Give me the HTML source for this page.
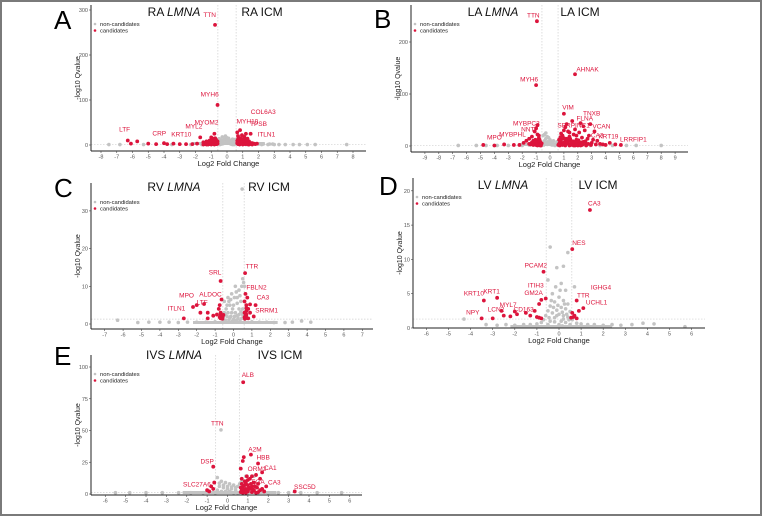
<!DOCTYPE html>
<html><head><meta charset="utf-8"><style>
html,body{margin:0;padding:0;background:#fff;}
#fig{position:relative;width:762px;height:516px;box-sizing:border-box;border:2px solid #7a7a7a;overflow:hidden;}
svg{position:absolute;left:-2px;top:-2px;}
text{font-family:"Liberation Sans",sans-serif;}
</style></head><body>
<div id="fig">
<svg id="svg" width="762" height="516" viewBox="0 0 762 516"></svg>
</div>
<script>
// ---------- DATA ----------
const aXTicks=[-8,-7,-6,-5,-4,-3,-2,-1,0,1,2,3,4,5,6,7,8];
const aYTicks=[0,100,200,300];
const aGray=[[-0.5,3],[-0.4,6],[-0.3,9],[-0.2,12],[-0.1,14],[0,16],[0.1,13],[0.2,10],[0.3,7],[0.4,4],[0.5,2],[-0.45,1],[-0.35,2],[-0.25,3],[-0.15,5],[-0.05,8],[0.05,6],[0.15,4],[0.25,2],[0.35,1],[0.45,1],[-0.3,18],[-0.1,20],[0.1,15],[0.3,10],[-0.4,8],[0.4,6],[-0.5,14],[0.5,12],[1.8,3],[2.0,2],[2.3,2],[2.6,1],[2.9,2],[3.3,1],[3.7,1],[4.2,1],[4.6,1],[5.1,1],[5.6,1],[7.6,1],[-7.5,1],[-6.8,1],[-5.3,1],[-3.5,1],[-2.3,1],[-1.6,1],[1.2,1],[1.5,2],[-0.8,1],[-0.2,4],[0.0,7],[0.2,5],[-0.4,11],[0.35,13],[2.2,1],[2.7,2],[3.0,1]];
const aRed=[[-6.3,10],[-6.1,3],[-5.7,8],[-5.0,3],[-4.5,2],[-4.0,4],[-3.8,2],[-3.4,3],[-3.0,2],[-2.6,2],[-2.2,2],[-1.9,3],[-1.7,17],[-1.5,6],[-1.4,4],[-1.3,5],[-1.2,7],[-1.1,10],[-1.0,17],[-0.95,12],[-0.9,8],[-0.85,5],[-0.8,25],[-0.75,15],[-0.7,4],[-0.65,2],[-1.3,1],[-1.1,2],[-0.9,3],[-0.7,2],[-1.5,1],[-1.2,1],[-1.0,1],[-0.8,1],[-0.76,267],[-0.6,89],[-0.7,9],[-1.0,6],
[-1.25,3],[-1.15,5],[-1.05,3],[-0.95,4],[-0.85,2],[-0.75,6],[-0.65,5],[-0.6,8],[-0.7,12],[-0.9,14],[-1.1,7],[-1.3,8],[-1.4,2],[-0.8,10],[-1.0,10],[-0.6,3],
[0.65,28],[0.7,20],[0.75,15],[0.8,10],[0.85,8],[0.9,12],[0.95,22],[1.0,6],[1.1,18],[1.2,10],[1.3,14],[1.4,5],[1.5,25],[1.6,4],[1.7,3],[1.8,2],[1.9,3],[0.7,2],[0.8,1],[0.9,3],[1.0,4],[1.1,5],[1.2,6],[1.3,7],[1.4,8],[0.75,3],[0.95,5],[1.15,2],[1.35,1],[1.55,4],[0.7,10],[0.9,12],[1.1,6],[0.83,33],[1.2,25],
[0.65,4],[0.75,7],[0.85,5],[0.95,8],[1.05,10],[1.15,9],[1.25,3],[1.35,4],[1.45,2],[1.25,12],[1.05,14],[0.85,15],[0.7,13],[1.0,1],[1.2,2],[1.4,1],[1.6,1],[0.65,9]];
const aLabels=[["TTN",-1.1,290],["MYH6",-1.1,113],["COL6A3",2.3,74],["MYOM2",-1.3,51],["MYL2",-2.1,42],["KRT10",-2.9,24],["CRP",-4.3,27],["LTF",-6.5,36],["MYH10",1.3,53],["TPSB",2.0,48],["ITLN1",2.5,24]];

const bXTicks=[-9,-8,-7,-6,-5,-4,-3,-2,-1,0,1,2,3,4,5,6,7,8,9];
const bYTicks=[0,100,200];
const bGray=[[-0.5,5],[-0.4,10],[-0.3,14],[-0.2,18],[-0.1,16],[0,12],[0.1,9],[0.2,6],[0.3,4],[0.4,2],[-0.45,2],[-0.35,4],[-0.25,6],[-0.15,8],[0.05,3],[0.15,2],[0.35,1],[0.5,8],[-0.5,20],[-0.3,25],[-6.6,1],[-5.3,1],[-4.6,1],[-3.8,1],[-3.0,1],[-2.0,1],[-1.5,2],[4.5,1],[5.5,1],[6.2,1],[8.0,1],[3.6,1],[2.9,1],[-0.2,3],[0.0,6],[0.25,10],[-0.4,22]];
const bRed=[[-0.94,240],[-1.0,117],[1.8,138],[1.0,62],[-4.8,2],[-4.0,1],[-3.3,3],[-2.6,2],[-2.2,2],[-1.9,6],[-1.7,10],[-1.5,14],[-1.3,18],[-1.1,28],[-1.0,34],[-0.9,22],[-0.8,15],[-0.7,8],[-1.2,5],[-1.4,3],[-1.0,2],[-0.8,3],[-0.65,1],[-1.2,10],[-0.9,40],
[-1.1,4],[-0.95,7],[-0.85,10],[-0.75,12],[-0.7,3],[-0.6,5],[-1.05,12],[-1.3,7],[-1.5,4],[-0.8,20],[-1.2,2],[-0.9,1],[-0.7,1],
[0.6,2],[0.7,6],[0.8,12],[0.9,20],[1.0,30],[1.1,36],[1.2,42],[1.3,28],[1.4,18],[1.5,10],[1.6,4],[1.7,22],[1.8,32],[1.9,12],[2.0,6],[2.1,26],[2.2,44],[2.3,16],[2.4,8],[2.5,30],[2.6,3],[2.7,14],[2.8,20],[3.0,6],[3.2,28],[3.4,10],[3.6,4],[3.8,3],[4.0,2],[4.3,6],[4.7,3],[5.1,2],[0.7,1],[0.9,2],[1.1,3],[1.3,5],[1.5,2],[1.7,1],[2.0,1],[2.3,2],[0.8,24],[1.2,14],[1.6,48],[2.4,38],[2.9,42],
[0.65,4],[0.75,9],[0.85,3],[0.95,6],[1.05,8],[1.15,11],[1.25,7],[1.35,10],[1.45,14],[1.55,6],[1.65,9],[1.75,5],[1.85,8],[1.95,3],[2.05,11],[2.15,4],[2.25,7],[2.35,3],[2.55,9],[2.75,4],[2.95,2],[3.1,12],[3.3,3],[0.75,17],[1.0,15],[1.4,26],[1.9,20],[0.65,12],[1.1,1],[1.4,1],[1.8,1],[2.2,1],[2.6,1]];
const bLabels=[["TTN",-1.2,252],["MYH6",-1.5,129],["AHNAK",2.7,148],["VIM",1.3,75],["TNXB",3.0,63],["FLNA",2.5,54],["SERPINC1",1.7,40],["VCAN",3.7,38],["CA3",3.4,21],["KRT19",4.2,19],["LRRFIP1",6.0,13],["MYBPC3",-1.7,44],["NNT",-1.6,33],["MYBPHL",-2.7,23],["MPO",-4.0,17]];

const cXTicks=[-7,-6,-5,-4,-3,-2,-1,0,1,2,3,4,5,6,7];
const cYTicks=[0,10,20,30];
const cGray=[[0.47,35.8],[0.5,12],[0.45,10],[0.3,9],[0.1,10],[-0.1,8],[-0.3,7],[-0.5,6],[0.2,7],[0.4,6],[0.0,5],[-0.2,5],[-0.4,4],[0.3,4],[0.5,4],[-0.5,3],[-0.3,3],[-0.1,3],[0.1,3],[0.3,2.5],[0.5,2.5],[-0.55,2],[-0.35,2],[-0.15,2],[0.05,2],[0.25,1.5],[0.45,1.5],[-0.45,1],[-0.25,1],[0.15,1],[0.35,0.8],[-0.05,0.8],[-0.6,0.5],[0.6,0.5],[1.0,0.6],[1.4,0.5],[1.8,0.5],[2.2,0.4],[2.8,0.4],[3.2,0.5],[3.7,0.8],[4.2,0.5],[-1.0,0.6],[-1.5,0.5],[-2.0,0.5],[-2.5,0.5],[-3.0,0.4],[-3.5,0.5],[-4.0,0.5],[-4.6,0.5],[-5.2,0.4],[-6.3,1],[0.6,10],[0.55,11],
[-0.25,6],[0.05,7],[0.35,7.5],[-0.05,4],[0.2,5.5],[-0.35,5],[0.15,8.5],[-0.15,6.5],[0.4,3.2],[-0.45,2.5],[-0.2,1.6],[0.0,1.2],[0.2,2.2]];
const cRed=[[0.63,13.5],[-0.7,11.4],[-2.7,1.5],[-2.2,4.5],[-2.0,5],[-1.8,3],[-1.6,5.3],[-1.4,3],[-1.4,1.5],[-0.7,1.5],[-0.6,2],[-0.7,3],[-0.8,4],[-0.65,6.5],[-0.75,5],[-0.7,2.5],[-0.6,1.8],[-0.9,2.5],[-1.1,2.2],[-0.65,2.2],[-0.75,1.8],[0.6,6],[0.65,8],[0.7,5],[0.6,3],[0.7,2.5],[0.8,4],[0.9,5.2],[0.6,1.8],[0.75,7],[1.2,5],[1.1,2],[0.7,4.2],[0.9,3],[0.8,1.5],[0.65,2.2],[0.7,3.4],
[-0.6,1.4],[-0.65,1.7],[-0.55,2.4],[0.62,1.4],[0.68,2],[0.72,1.6]];
const cLabels=[["TTR",1.0,15.4],["SRL",-1.0,13.8],["FBLN2",1.25,9.8],["CA3",1.6,7.2],["SRRM1",1.8,3.7],["ALDOC",-1.25,8],["MPO",-2.55,7.7],["LTF",-1.7,5.8],["ITLN1",-3.1,4.2]];

const dXTicks=[-6,-5,-4,-3,-2,-1,0,1,2,3,4,5,6];
const dYTicks=[0,5,10,15,20];
const dGray=[[-0.4,11.8],[0.4,11],[0.2,9],[-0.1,8.8],[-0.5,7],[0.1,6.5],[0.3,5.5],[-0.3,5],[0.0,4.5],[0.2,4],[-0.2,3.8],[0.4,3.5],[-0.4,3.2],[0.1,3],[0.3,2.8],[-0.1,2.6],[-0.5,2.5],[0.5,2.4],[-0.3,2.2],[0.0,2],[0.2,1.8],[-0.6,1.8],[0.4,1.6],[-0.2,1.5],[0.6,1.2],[-0.7,1.2],[0.1,1],[-0.4,1],[0.3,0.8],[-0.8,0.8],[0.8,0.7],[1.0,0.6],[-1.0,0.6],[1.3,0.5],[-1.3,0.5],[1.6,0.5],[-1.6,0.5],[2.0,0.4],[-2.0,0.4],[2.4,0.5],[-2.4,0.5],[2.8,0.4],[-2.8,0.4],[3.3,0.5],[-3.3,0.5],[3.8,0.7],[4.3,0.6],[-4.3,1.3],[5.7,0.2],[0.0,0.5],[-0.5,0.5],[0.5,0.5],[0.7,6],[-0.2,0.9],[0.15,0.3],
[-0.15,6],[0.05,5.5],[0.25,3.5],[-0.35,4],[-0.05,3.3],[0.15,2.3],[-0.25,3],[0.35,2],[-0.45,1.5],[0.45,1.2],[-0.1,1.8],[0.2,1.3]];
const dRed=[[1.4,17.2],[0.6,11.5],[-0.7,8.2],[-3.4,4],[-2.8,4.4],[-3.5,1.4],[-3.0,1.4],[-2.6,2.5],[-2.5,1.8],[-2.2,1.7],[-2.0,2.4],[-1.9,2],[-1.5,2.2],[-1.3,1.8],[-1.0,1.6],[-1.1,2.5],[-0.9,3.5],[-0.8,4.1],[-0.6,4.3],[-0.9,1.5],[-0.8,1.4],[0.8,4],[0.9,2.5],[1.1,2.9],[0.6,2.2],[0.65,1.6],[0.55,1.5],[0.8,1.4],[0.7,1.8]];
const dLabels=[["CA3",1.6,18.2],["NES",0.9,12.5],["PCAM2",-1.05,9.2],["ITIH3",-1.05,6.3],["GM2A",-1.15,5.2],["IGHG4",1.9,6],["TTR",1.1,4.8],["UCHL1",1.7,3.8],["KRT10",-3.85,5.1],["KRT1",-3.05,5.4],["NPY",-3.9,2.3],["LCN2",-2.85,2.8],["MYL7",-2.3,3.4],["CD163",-1.6,2.8]];

const eXTicks=[-6,-5,-4,-3,-2,-1,0,1,2,3,4,5,6];
const eYTicks=[0,25,50,75,100];
const eGray=[[-0.32,50.5],[-0.5,13],[-0.3,10],[-0.1,9],[0.1,8],[0.3,7],[0.5,6],[-0.4,6],[-0.2,5],[0.0,4],[0.2,4],[0.4,3],[-0.5,3],[-0.3,2],[-0.1,2],[0.1,2],[0.3,1],[0.5,1],[-0.6,1],[0.6,8],[0.7,10],[1.0,1],[1.5,1],[2.0,1],[2.5,1],[3.0,1],[3.6,1],[4.4,1],[5.6,1],[-1.2,1],[-1.8,1],[-2.4,1],[-3.2,1],[-4.0,1],[-4.8,1],[-5.5,1],[0.9,14],[1.3,14],[-0.2,7],[0.0,6],[0.2,5.5],[0.4,5],[-0.4,8.5]];
const eRed=[[0.77,88],[1.15,31],[1.5,24],[-0.7,21.5],[3.3,2],[0.8,29],[0.75,26],[0.65,20],[1.7,17],[1.4,15],[1.2,14],[0.95,14],[1.6,12],[1.1,12],[0.85,10],[1.3,9],[1.9,6],[0.7,8],[1.0,7],[1.2,6],[1.45,5],[0.65,5],[0.9,4],[1.1,4],[1.3,3],[1.6,3],[0.7,3],[0.8,2],[1.0,2],[1.2,1.5],[1.5,1.5],[1.8,2],[0.65,1.5],[0.9,1],[-1.0,3],[-0.8,6],[-0.65,9],[-0.7,4],[-0.9,2],
[0.75,5.5],[0.85,7],[0.95,3],[1.05,5],[1.15,8],[1.25,3.5],[1.35,6],[1.5,8],[1.7,4],[0.7,12],[0.9,9],[1.0,11],[0.8,4],[1.4,1],[0.75,1]];
const eLabels=[["ALB",1.0,94],["TTN",-0.5,56],["A2M",1.35,35.5],["HBB",1.75,29],["CA1",2.1,21],["ORM2",1.45,20],["FGA",1.5,10],["CA3",2.3,9.5],["DSP",-1.0,26],["SLC27A6",-1.5,8],["SSC5D",3.8,6]];

// ---------- DRAW ----------
const NS='http://www.w3.org/2000/svg';
const svg=document.getElementById('svg');
function mk(tag,attrs,parent){const e=document.createElementNS(NS,tag);for(const k in attrs)e.setAttribute(k,attrs[k]);(parent||svg).appendChild(e);return e;}
const RED='#dc143c', GRAY='#c3c3c3';

function panel(p,xt,yt,gray,red,labels){
  const g=mk('g',{});
  
  
  const X=v=>p.x0+v*p.ux, Y=v=>p.y0-v*p.uy;
  [-0.58,0.58].forEach(v=>{const l=mk('line',{x1:X(v),x2:X(v),y1:p.top,y2:p.bottom,stroke:'#cfcfcf','stroke-width':0.7,'stroke-dasharray':'1.5,1.5'},g);
    });
  const h=mk('line',{x1:p.left,x2:p.right,y1:Y(1.3),y2:Y(1.3),stroke:'#cfcfcf','stroke-width':0.7,'stroke-dasharray':'1.5,1.5'},g);
  
  const band=mk('rect',{x:X(-2.2),y:Y(0)-3,width:(4.6)*p.ux,height:3,fill:GRAY},g);
  
  gray.forEach(d=>{const c=mk('circle',{cx:X(d[0]),cy:Y(d[1]),r:1.8,fill:GRAY},g);
    });
  red.forEach(d=>{const c=mk('circle',{cx:X(d[0]),cy:Y(d[1]),r:1.9,fill:RED},g);
    });
  labels.forEach(d=>{const t=mk('text',{x:X(d[1]),y:Y(d[2])+2.5,'font-size':6.5,fill:RED,'text-anchor':'middle'},g);
    t.textContent=d[0];});
  const ya=mk('line',{x1:p.left,x2:p.left,y1:p.top,y2:p.bottom,stroke:'#222','stroke-width':1},g);
  
  const xa=mk('line',{x1:p.left,x2:p.right,y1:p.bottom,y2:p.bottom,stroke:'#222','stroke-width':1},g);
  
  xt.forEach(v=>{mk('line',{x1:X(v),x2:X(v),y1:p.bottom,y2:p.bottom+2,stroke:'#444','stroke-width':0.6},g);
    const t=mk('text',{x:X(v),y:p.bottom+7.5,'font-size':5.5,fill:'#555','text-anchor':'middle'},g);t.textContent=v;
    });
  yt.forEach(v=>{mk('line',{x1:p.left-2,x2:p.left,y1:Y(v),y2:Y(v),stroke:'#444','stroke-width':0.6},g);
    const t=mk('text',{x:p.left-3,y:Y(v)+2,'font-size':5.5,fill:'#555','text-anchor':'end'},g);t.textContent=v;
    });
  const xtl=mk('text',{x:(p.left+p.right)/2,y:p.bottom+15,'font-size':7.5,fill:'#222','text-anchor':'middle'},g);
  xtl.textContent='Log2 Fold Change';
  const yc=(p.top+p.bottom)/2;
  const ytl=mk('text',{x:p.left-11,y:yc,'font-size':7,fill:'#222','text-anchor':'middle',transform:`rotate(-90 ${p.left-11} ${yc})`},g);
  ytl.textContent='-log10 Qvalue';
  const t1=mk('text',{x:p.t1x,y:p.ty,'font-size':12,fill:'#111','text-anchor':'middle'},g);
  t1.innerHTML=p.reg+' <tspan font-style="italic">LMNA</tspan>';
  const t2=mk('text',{x:p.t2x,y:p.ty,'font-size':12,fill:'#111','text-anchor':'middle'},g);
  t2.textContent=p.reg+' ICM';
  const L=mk('text',{x:p.lx,y:p.ly,'font-size':26,fill:'#000'},g);
  L.textContent=p.id;
  const lg=mk('g',{},g);
  mk('circle',{cx:p.left+4,cy:p.top+19,r:1.3,fill:GRAY},lg);
  mk('circle',{cx:p.left+4,cy:p.top+25.5,r:1.3,fill:RED},lg);
  const a=mk('text',{x:p.left+9,y:p.top+21,'font-size':5.8,fill:'#222'},lg);a.textContent='non-candidates';
  
  const b=mk('text',{x:p.left+9,y:p.top+27.5,'font-size':5.8,fill:'#222'},lg);b.textContent='candidates';
  
}

panel({id:'A',reg:'RA',x0:227,ux:15.75,y0:145,uy:0.45,left:91,right:366,top:5,bottom:151,t1x:174,t2x:262,ty:16,lx:54,ly:29},aXTicks,aYTicks,aGray,aRed,aLabels);
panel({id:'B',reg:'LA',x0:550,ux:13.9,y0:146,uy:0.52,left:411,right:688,top:5,bottom:152,t1x:493,t2x:580,ty:16,lx:374,ly:28},bXTicks,bYTicks,bGray,bRed,bLabels);
panel({id:'C',reg:'RV',x0:233.5,ux:18.4,y0:324,uy:3.77,left:91,right:373,top:183,bottom:329,t1x:174,t2x:269,ty:191,lx:54,ly:197},cXTicks,cYTicks,cGray,cRed,cLabels);
panel({id:'D',reg:'LV',x0:559,ux:22.1,y0:328,uy:6.86,left:413,right:705,top:178,bottom:328,t1x:503,t2x:598,ty:189,lx:379,ly:195},dXTicks,dYTicks,dGray,dRed,dLabels);
panel({id:'E',reg:'IVS',x0:227.5,ux:20.37,y0:494,uy:1.27,left:91,right:362,top:355,bottom:495,t1x:174,t2x:280,ty:359,lx:54,ly:365},eXTicks,eYTicks,eGray,eRed,eLabels);
</script>
</body></html>
